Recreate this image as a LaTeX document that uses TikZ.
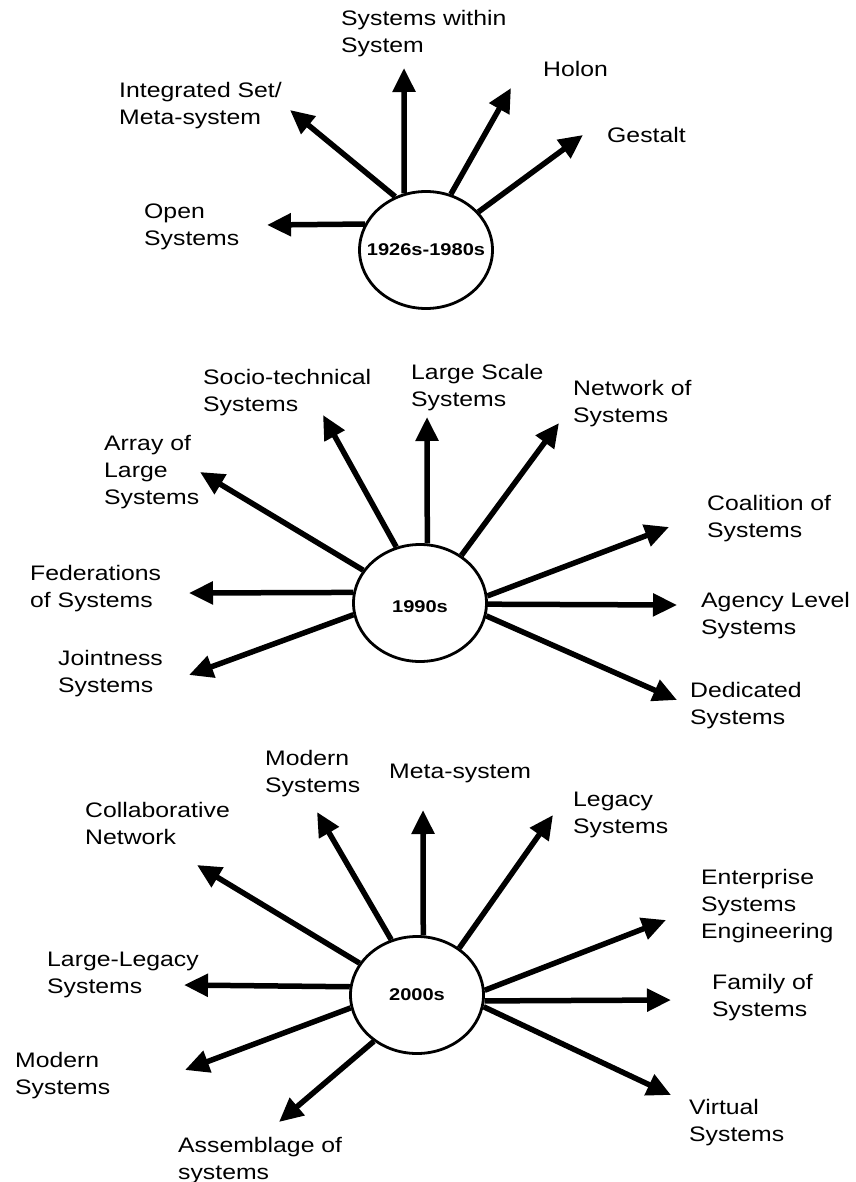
\documentclass[tikz,border=0pt]{standalone}
\usepackage{fontspec}
\setmainfont{Liberation Sans}
\newfontfamily\lblfont[FakeStretch=1.18]{Liberation Sans}
\usetikzlibrary{arrows.meta,shapes.geometric}

\tikzset{
  era/.style={ellipse, draw, line width=2.8pt, minimum width=133pt, minimum height=117pt, inner sep=0pt},
  eratext/.style={inner sep=0pt, font=\lblfont\bfseries\fontsize{17}{20}\selectfont},
  spoke/.style={line width=5.5pt, -{Triangle[length=24pt,width=22pt]}},
  tag/.style={anchor=north west, inner sep=0pt, align=left, font=\lblfont\fontsize{21}{27}\selectfont}
}

\begin{document}
\begin{tikzpicture}[x=1pt,y=-1pt]
\useasboundingbox (0,0) rectangle (855,1182);

% 1926s-1980s
\node[era] (c1) at (426,250) {};
\node[eratext] (t1) at (c1) {1926s-1980s};

\coordinate (pOpen) at (267,225);
\coordinate (pInteg) at (290,110);
\coordinate (pSysW) at (404,68);
\coordinate (pHolon) at (511,88);
\coordinate (pGestalt) at (583,135);

\draw[spoke] (c1.157) -- (pOpen);
\draw[spoke] (c1.120) -- (pInteg);
\draw[spoke] (c1.111) -- (pSysW);
\draw[spoke] (c1.66) -- (pHolon);
\draw[spoke] (c1.36) -- (pGestalt);

\node[tag] (lOpen) at (144,204) {Open\\Systems};
\node[tag] (lInteg) at (119,82) {Integrated Set/\\Meta-system};
\node[tag] (lSysW) at (341,10) {Systems within\\System};
\node[tag] (lHolon) at (543,61) {Holon};
\node[tag] (lGestalt) at (607,127) {Gestalt};

% 1990s
\node[era] (c2) at (420,603) {};
\node[eratext] (t2) at (420,607) {1990s};

\coordinate (pArray) at (200,472);
\coordinate (pSocio) at (323,415);
\coordinate (pLarge) at (427,417);
\coordinate (pNet) at (559,423);
\coordinate (pCoal) at (669,527);
\coordinate (pAgency) at (677,605);
\coordinate (pDed) at (677,700);
\coordinate (pFed) at (189,593);
\coordinate (pJoint) at (189,675);

\draw[spoke] (c2.150) -- (pArray);
\draw[spoke] (c2.113) -- (pSocio);
\draw[spoke] (c2.83.5) -- (pLarge);
\draw[spoke] (c2.49) -- (pNet);
\draw[spoke] (c2.6.5) -- (pCoal);
\draw[spoke] (c2.-1.6) -- (pAgency);
\draw[spoke] (c2.-11.6) -- (pDed);
\draw[spoke] (c2.171.5) -- (pFed);
\draw[spoke] (c2.190) -- (pJoint);

\node[tag] (lArray) at (104,435) {Array of\\Large\\Systems};
\node[tag] (lSocio) at (203,369) {Socio-technical\\Systems};
\node[tag] (lLarge) at (411,364) {Large Scale\\Systems};
\node[tag] (lNet) at (573,380) {Network of\\Systems};
\node[tag] (lCoal) at (707,495) {Coalition of\\Systems};
\node[tag] (lAgency) at (701,592) {Agency Level\\Systems};
\node[tag] (lDed) at (690,682) {Dedicated\\Systems};
\node[tag] (lFed) at (30,565) {Federations\\of Systems};
\node[tag] (lJoint) at (58,650) {Jointness\\Systems};

% 2000s
\node[era] (c3) at (417,995) {};
\node[eratext] (t3) at (c3) {2000s};

\coordinate (pCollab) at (197,865);
\coordinate (pModA) at (317,812);
\coordinate (pMeta) at (423,810);
\coordinate (pLegacy) at (553,815);
\coordinate (pEnt) at (666,920);
\coordinate (pFam) at (671,1000);
\coordinate (pVirt) at (671,1095);
\coordinate (pAssem) at (279,1122);
\coordinate (pModB) at (185,1070);
\coordinate (pLL) at (184,985);

\draw[spoke] (c3.151) -- (pCollab);
\draw[spoke] (c3.115) -- (pModA);
\draw[spoke] (c3.84.5) -- (pMeta);
\draw[spoke] (c3.48) -- (pLegacy);
\draw[spoke] (c3.4) -- (pEnt);
\draw[spoke] (c3.-5.9) -- (pFam);
\draw[spoke] (c3.-10.8) -- (pVirt);
\draw[spoke] (c3.227) -- (pAssem);
\draw[spoke] (c3.191) -- (pModB);
\draw[spoke] (c3.173) -- (pLL);

\node[tag] (lCollab) at (85,802) {Collaborative\\Network};
\node[tag] (lModA) at (265,750) {Modern\\Systems};
\node[tag] (lMeta) at (389,764) {Meta-system};
\node[tag] (lLegacy) at (573,792) {Legacy\\Systems};
\node[tag] (lEnt) at (701,869) {Enterprise\\Systems\\Engineering};
\node[tag] (lFam) at (712,974) {Family of\\Systems};
\node[tag] (lVirt) at (689,1099) {Virtual\\Systems};
\node[tag] (lAssem) at (178,1137) {Assemblage of\\systems};
\node[tag] (lModB) at (15,1052) {Modern\\Systems};
\node[tag] (lLL) at (47,952) {Large-Legacy\\Systems};

\end{tikzpicture}
\end{document}
